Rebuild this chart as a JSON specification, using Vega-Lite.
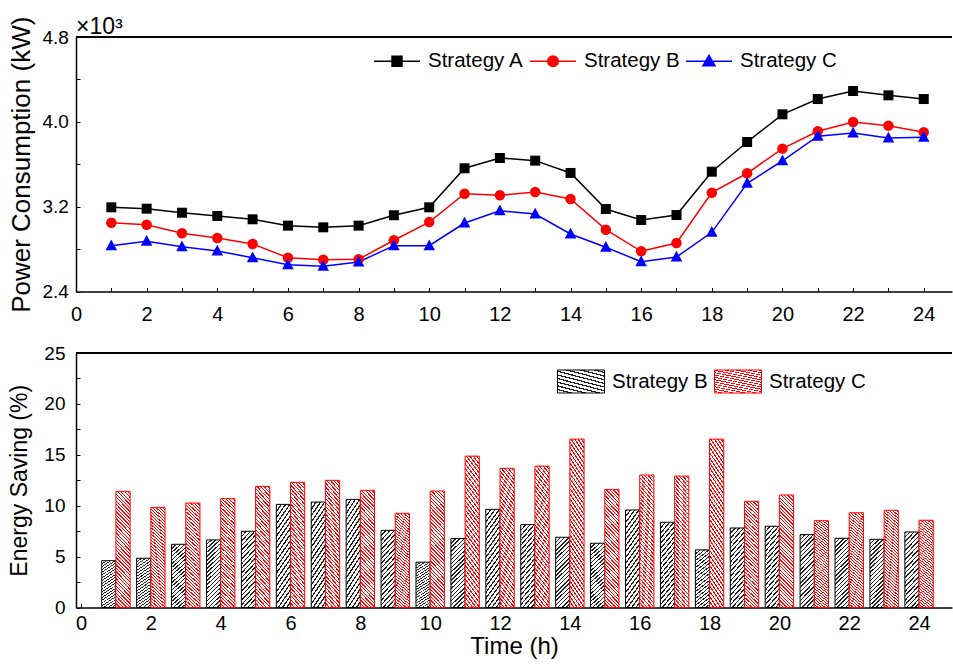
{
"$schema": "https://vega.github.io/schema/vega-lite/v6.json",
"padding": {"left": 8, "top": 16, "right": 0, "bottom": 0},
"spacing": 19,
"config": {
  "font": "Liberation Sans",
  "view": {"stroke": null},
  "axis": {"labelFont": "Liberation Sans", "titleFont": "Liberation Sans", "labelColor": "black", "titleColor": "black", "domainColor": "black", "tickColor": "black", "grid": false, "titleFontWeight": "normal", "labelFontSize": 19, "titleFontSize": 23, "domainWidth": 1.5, "tickWidth": 1, "labelFlush": false, "labelOverlap": false},
  "legend": {"labelFont": "Liberation Sans", "labelColor": "black", "labelFontSize": 20.5, "padding": 0}
},
"vconcat": [
{
  "width": 876, "height": 254.5,
  "title": {"text": "×10³", "anchor": "start", "frame": "group", "fontSize": 23, "fontWeight": "normal", "baseline": "alphabetic", "offset": -41, "color": "black"},
  "data": {"values": [
    {"hour":1,"strategy":"Strategy A","power":3.194},{"hour":2,"strategy":"Strategy A","power":3.181},{"hour":3,"strategy":"Strategy A","power":3.143},{"hour":4,"strategy":"Strategy A","power":3.112},{"hour":5,"strategy":"Strategy A","power":3.081},{"hour":6,"strategy":"Strategy A","power":3.021},{"hour":7,"strategy":"Strategy A","power":3.005},{"hour":8,"strategy":"Strategy A","power":3.021},{"hour":9,"strategy":"Strategy A","power":3.119},{"hour":10,"strategy":"Strategy A","power":3.194},{"hour":11,"strategy":"Strategy A","power":3.562},{"hour":12,"strategy":"Strategy A","power":3.659},{"hour":13,"strategy":"Strategy A","power":3.634},{"hour":14,"strategy":"Strategy A","power":3.518},{"hour":15,"strategy":"Strategy A","power":3.178},{"hour":16,"strategy":"Strategy A","power":3.074},{"hour":17,"strategy":"Strategy A","power":3.121},{"hour":18,"strategy":"Strategy A","power":3.530},{"hour":19,"strategy":"Strategy A","power":3.810},{"hour":20,"strategy":"Strategy A","power":4.071},{"hour":21,"strategy":"Strategy A","power":4.215},{"hour":22,"strategy":"Strategy A","power":4.291},{"hour":23,"strategy":"Strategy A","power":4.250},{"hour":24,"strategy":"Strategy A","power":4.215},
    {"hour":1,"strategy":"Strategy B","power":3.049},{"hour":2,"strategy":"Strategy B","power":3.030},{"hour":3,"strategy":"Strategy B","power":2.949},{"hour":4,"strategy":"Strategy B","power":2.905},{"hour":5,"strategy":"Strategy B","power":2.848},{"hour":6,"strategy":"Strategy B","power":2.719},{"hour":7,"strategy":"Strategy B","power":2.700},{"hour":8,"strategy":"Strategy B","power":2.704},{"hour":9,"strategy":"Strategy B","power":2.883},{"hour":10,"strategy":"Strategy B","power":3.055},{"hour":11,"strategy":"Strategy B","power":3.322},{"hour":12,"strategy":"Strategy B","power":3.307},{"hour":13,"strategy":"Strategy B","power":3.338},{"hour":14,"strategy":"Strategy B","power":3.272},{"hour":15,"strategy":"Strategy B","power":2.983},{"hour":16,"strategy":"Strategy B","power":2.779},{"hour":17,"strategy":"Strategy B","power":2.857},{"hour":18,"strategy":"Strategy B","power":3.332},{"hour":19,"strategy":"Strategy B","power":3.515},{"hour":20,"strategy":"Strategy B","power":3.747},{"hour":21,"strategy":"Strategy B","power":3.911},{"hour":22,"strategy":"Strategy B","power":3.998},{"hour":23,"strategy":"Strategy B","power":3.964},{"hour":24,"strategy":"Strategy B","power":3.901},
    {"hour":1,"strategy":"Strategy C","power":2.832},{"hour":2,"strategy":"Strategy C","power":2.873},{"hour":3,"strategy":"Strategy C","power":2.822},{"hour":4,"strategy":"Strategy C","power":2.782},{"hour":5,"strategy":"Strategy C","power":2.719},{"hour":6,"strategy":"Strategy C","power":2.653},{"hour":7,"strategy":"Strategy C","power":2.638},{"hour":8,"strategy":"Strategy C","power":2.678},{"hour":9,"strategy":"Strategy C","power":2.832},{"hour":10,"strategy":"Strategy C","power":2.832},{"hour":11,"strategy":"Strategy C","power":3.046},{"hour":12,"strategy":"Strategy C","power":3.162},{"hour":13,"strategy":"Strategy C","power":3.131},{"hour":14,"strategy":"Strategy C","power":2.942},{"hour":15,"strategy":"Strategy C","power":2.817},{"hour":16,"strategy":"Strategy C","power":2.681},{"hour":17,"strategy":"Strategy C","power":2.725},{"hour":18,"strategy":"Strategy C","power":2.958},{"hour":19,"strategy":"Strategy C","power":3.420},{"hour":20,"strategy":"Strategy C","power":3.633},{"hour":21,"strategy":"Strategy C","power":3.864},{"hour":22,"strategy":"Strategy C","power":3.895},{"hour":23,"strategy":"Strategy C","power":3.848},{"hour":24,"strategy":"Strategy C","power":3.854}
  ]},
  "encoding": {
    "x": {"field": "hour", "type": "quantitative", "scale": {"domain": [0, 24.8], "nice": false, "zero": false},
          "axis": {"values": [0,1,2,3,4,5,6,7,8,9,10,11,12,13,14,15,16,17,18,19,20,21,22,23,24], "labelExpr": "datum.value % 2 == 0 ? datum.label : ''", "tickSize": -4, "labelPadding": 17, "labelFontSize": 20, "title": null}},
    "y": {"field": "power", "type": "quantitative", "scale": {"domain": [2.4, 4.8], "nice": false, "zero": false},
          "axis": {"values": [2.4, 2.8, 3.2, 3.6, 4.0, 4.4, 4.8], "labelExpr": "round(datum.value * 10) % 8 == 0 ? format(datum.value, '.1f') : ''", "tickSize": -4, "labelPadding": 11.7, "title": "Power Consumption (kW)", "titleFontSize": 26, "titlePadding": 7}}
  },
  "layer": [
    {
      "mark": {"type": "rule", "strokeWidth": 1.5, "color": "black"},
      "encoding": {"y": {"datum": 4.8, "type": "quantitative"}, "x": null}
    },
    {
      "mark": {"type": "line", "strokeWidth": 1.5},
      "encoding": {
        "color": {"field": "strategy", "type": "nominal", "scale": {"domain": ["Strategy A", "Strategy B", "Strategy C"], "range": ["#000000", "#ff0000", "#0000ff"]},
                  "legend": {"orient": "none", "legendX": 297, "legendY": 0, "direction": "horizontal", "title": null, "symbolType": "M-1,0H1M-0.217,-0.217H0.217V0.217H-0.217Z", "symbolSize": 2116, "symbolStrokeWidth": 1.5, "labelOffset": 7, "columnPadding": 3,
                    "encode": {"symbols": {"update": {
                      "shape": {"signal": "datum.value == 'Strategy A' ? 'M-1,0H1M-0.217,-0.217H0.217V0.217H-0.217Z' : datum.value == 'Strategy B' ? 'M-1,0H1M0.23,0A0.23,0.23,0,1,1,-0.23,0A0.23,0.23,0,1,1,0.23,0Z' : 'M-1,0H1M0,-0.26L0.26,0.2L-0.26,0.2Z'"},
                      "fill": {"signal": "datum.value == 'Strategy A' ? '#000000' : datum.value == 'Strategy B' ? '#ff0000' : '#0000ff'"},
                      "stroke": {"signal": "datum.value == 'Strategy A' ? '#000000' : datum.value == 'Strategy B' ? '#ff0000' : '#0000ff'"},
                      "strokeWidth": {"value": 1.5},
                      "opacity": {"value": 1}
                    }}}}}
      }
    },
    {
      "transform": [{"filter": "datum.strategy == 'Strategy A'"}],
      "mark": {"type": "point", "shape": "square", "filled": true, "opacity": 1, "size": 100, "color": "#000000"}
    },
    {
      "transform": [{"filter": "datum.strategy == 'Strategy B'"}],
      "mark": {"type": "point", "shape": "circle", "filled": true, "opacity": 1, "size": 110, "color": "#ff0000"}
    },
    {
      "transform": [{"filter": "datum.strategy == 'Strategy C'"}],
      "mark": {"type": "point", "shape": "M0,-1.2L1.1,0.85L-1.1,0.85Z", "filled": true, "opacity": 1, "size": 110, "color": "#0000ff"}
    },
    {
      "data": {"values": [{"label": "(a)"}]},
      "mark": {"type": "text", "fontSize": 24, "align": "left", "baseline": "middle", "color": "black"},
      "encoding": {
        "text": {"field": "label"},
        "x": {"datum": 0.9, "type": "quantitative"},
        "y": {"datum": 4.55, "type": "quantitative"}
      }
    }
  ]
},
{
  "width": 876, "height": 254.5,
  "data": {"values": [
    {"hour":1,"strategy":"Strategy B","saving":4.6},{"hour":2,"strategy":"Strategy B","saving":4.84},{"hour":3,"strategy":"Strategy B","saving":6.21},{"hour":4,"strategy":"Strategy B","saving":6.64},{"hour":5,"strategy":"Strategy B","saving":7.49},{"hour":6,"strategy":"Strategy B","saving":10.13},{"hour":7,"strategy":"Strategy B","saving":10.36},{"hour":8,"strategy":"Strategy B","saving":10.62},{"hour":9,"strategy":"Strategy B","saving":7.58},{"hour":10,"strategy":"Strategy B","saving":4.45},{"hour":11,"strategy":"Strategy B","saving":6.77},{"hour":12,"strategy":"Strategy B","saving":9.64},{"hour":13,"strategy":"Strategy B","saving":8.14},{"hour":14,"strategy":"Strategy B","saving":6.9},{"hour":15,"strategy":"Strategy B","saving":6.31},{"hour":16,"strategy":"Strategy B","saving":9.58},{"hour":17,"strategy":"Strategy B","saving":8.37},{"hour":18,"strategy":"Strategy B","saving":5.66},{"hour":19,"strategy":"Strategy B","saving":7.81},{"hour":20,"strategy":"Strategy B","saving":7.98},{"hour":21,"strategy":"Strategy B","saving":7.16},{"hour":22,"strategy":"Strategy B","saving":6.8},{"hour":23,"strategy":"Strategy B","saving":6.7},{"hour":24,"strategy":"Strategy B","saving":7.42},
    {"hour":1,"strategy":"Strategy C","saving":11.41},{"hour":2,"strategy":"Strategy C","saving":9.84},{"hour":3,"strategy":"Strategy C","saving":10.26},{"hour":4,"strategy":"Strategy C","saving":10.69},{"hour":5,"strategy":"Strategy C","saving":11.9},{"hour":6,"strategy":"Strategy C","saving":12.29},{"hour":7,"strategy":"Strategy C","saving":12.49},{"hour":8,"strategy":"Strategy C","saving":11.51},{"hour":9,"strategy":"Strategy C","saving":9.25},{"hour":10,"strategy":"Strategy C","saving":11.44},{"hour":11,"strategy":"Strategy C","saving":14.87},{"hour":12,"strategy":"Strategy C","saving":13.67},{"hour":13,"strategy":"Strategy C","saving":13.89},{"hour":14,"strategy":"Strategy C","saving":16.54},{"hour":15,"strategy":"Strategy C","saving":11.6},{"hour":16,"strategy":"Strategy C","saving":13.01},{"hour":17,"strategy":"Strategy C","saving":12.91},{"hour":18,"strategy":"Strategy C","saving":16.54},{"hour":19,"strategy":"Strategy C","saving":10.43},{"hour":20,"strategy":"Strategy C","saving":11.05},{"hour":21,"strategy":"Strategy C","saving":8.53},{"hour":22,"strategy":"Strategy C","saving":9.31},{"hour":23,"strategy":"Strategy C","saving":9.55},{"hour":24,"strategy":"Strategy C","saving":8.57}
  ]},
  "encoding": {
    "x": {"field": "hour", "type": "quantitative", "scale": {"domain": [0, 24.8], "nice": false, "zero": false},
          "axis": {"values": [0,1,2,3,4,5,6,7,8,9,10,11,12,13,14,15,16,17,18,19,20,21,22,23,24], "labelExpr": "datum.value % 2 == 0 ? datum.label : ''", "tickSize": -4, "labelPadding": 10, "labelFontSize": 20, "title": "Time (h)", "titleFontSize": 24, "titlePadding": 1}},
    "y": {"field": "saving", "type": "quantitative", "scale": {"domain": [0, 25], "nice": false},
          "axis": {"values": [0, 2.5, 5, 7.5, 10, 12.5, 15, 17.5, 20, 22.5, 25], "labelExpr": "datum.value % 5 == 0 ? datum.label : ''", "tickSize": -4, "labelPadding": 15, "title": "Energy Saving (%)", "titlePadding": 12}}
  },
  "layer": [
    {
      "mark": {"type": "rule", "strokeWidth": 1.5, "color": "black"},
      "encoding": {"y": {"datum": 25, "type": "quantitative"}, "x": null}
    },
    {
      "transform": [{"filter": "datum.strategy == 'Strategy B'"}],
      "mark": {"type": "bar", "orient": "vertical", "width": 14.2, "xOffset": -7.1, "strokeWidth": 1,
        "fill": {"gradient": "linear", "x1": 0, "y1": 0, "x2": 1, "y2": 5, "stops": [
          {"offset":0,"color":"#222"},{"offset":0.004,"color":"#222"},{"offset":0.004,"color":"#fff"},{"offset":0.0115,"color":"#fff"},
          {"offset":0.0115,"color":"#222"},{"offset":0.0155,"color":"#222"},{"offset":0.0155,"color":"#fff"},{"offset":0.023,"color":"#fff"},
          {"offset":0.023,"color":"#222"},{"offset":0.027,"color":"#222"},{"offset":0.027,"color":"#fff"},{"offset":0.0345,"color":"#fff"},
          {"offset":0.0345,"color":"#222"},{"offset":0.0385,"color":"#222"},{"offset":0.0385,"color":"#fff"},{"offset":0.046,"color":"#fff"},
          {"offset":0.046,"color":"#222"},{"offset":0.05,"color":"#222"},{"offset":0.05,"color":"#fff"},{"offset":0.0575,"color":"#fff"},
          {"offset":0.0575,"color":"#222"},{"offset":0.0615,"color":"#222"},{"offset":0.0615,"color":"#fff"},{"offset":0.069,"color":"#fff"},
          {"offset":0.069,"color":"#222"},{"offset":0.073,"color":"#222"},{"offset":0.073,"color":"#fff"},{"offset":0.0805,"color":"#fff"},
          {"offset":0.0805,"color":"#222"},{"offset":0.0845,"color":"#222"},{"offset":0.0845,"color":"#fff"},{"offset":0.092,"color":"#fff"},
          {"offset":0.092,"color":"#222"},{"offset":0.096,"color":"#222"},{"offset":0.096,"color":"#fff"},{"offset":0.1035,"color":"#fff"},
          {"offset":0.1035,"color":"#222"},{"offset":0.1075,"color":"#222"},{"offset":0.1075,"color":"#fff"},{"offset":0.115,"color":"#fff"},
          {"offset":0.115,"color":"#222"},{"offset":0.119,"color":"#222"},{"offset":0.119,"color":"#fff"},{"offset":0.1265,"color":"#fff"},
          {"offset":0.1265,"color":"#222"},{"offset":0.1305,"color":"#222"},{"offset":0.1305,"color":"#fff"},{"offset":0.138,"color":"#fff"},
          {"offset":0.138,"color":"#222"},{"offset":0.142,"color":"#222"},{"offset":0.142,"color":"#fff"},{"offset":0.1495,"color":"#fff"},
          {"offset":0.1495,"color":"#222"},{"offset":0.1535,"color":"#222"},{"offset":0.1535,"color":"#fff"},{"offset":0.161,"color":"#fff"},
          {"offset":0.161,"color":"#222"},{"offset":0.165,"color":"#222"},{"offset":0.165,"color":"#fff"},{"offset":0.1725,"color":"#fff"},
          {"offset":0.1725,"color":"#222"},{"offset":0.1765,"color":"#222"},{"offset":0.1765,"color":"#fff"},{"offset":0.184,"color":"#fff"},
          {"offset":0.184,"color":"#222"},{"offset":0.188,"color":"#222"},{"offset":0.188,"color":"#fff"},{"offset":0.1955,"color":"#fff"},
          {"offset":0.1955,"color":"#222"},{"offset":0.1995,"color":"#222"},{"offset":0.1995,"color":"#fff"},{"offset":0.207,"color":"#fff"},
          {"offset":0.207,"color":"#222"},{"offset":0.211,"color":"#222"},{"offset":0.211,"color":"#fff"},{"offset":0.2185,"color":"#fff"},
          {"offset":0.2185,"color":"#222"},{"offset":0.2225,"color":"#222"},{"offset":0.2225,"color":"#fff"},{"offset":0.23,"color":"#fff"},
          {"offset":0.23,"color":"#222"},{"offset":0.234,"color":"#222"},{"offset":0.234,"color":"#fff"},{"offset":1,"color":"#fff"}
        ]}},
      "encoding": {
        "y": {"field": "saving", "type": "quantitative"},
        "stroke": {"field": "strategy", "type": "nominal", "scale": {"domain": ["Strategy B"], "range": ["#000000"]},
                   "legend": {"orient": "none", "legendX": 481, "legendY": 4.5, "title": null, "symbolType": "M-1,-0.49H1V0.49H-1Z", "symbolSize": 2209, "symbolStrokeWidth": 1, "labelOffset": 7,
                     "encode": {"symbols": {"update": {
                       "stroke": {"value": "#000000"}, "strokeWidth": {"value": 1}, "opacity": {"value": 1},
                       "fill": {"value": {"gradient": "linear", "x1": 0, "y1": 0, "x2": 2, "y2": 1, "stops": [
                         {"offset":0,"color":"#222"},{"offset":0.013,"color":"#222"},{"offset":0.013,"color":"#fff"},{"offset":0.037,"color":"#fff"},
                         {"offset":0.037,"color":"#222"},{"offset":0.05,"color":"#222"},{"offset":0.05,"color":"#fff"},{"offset":0.074,"color":"#fff"},
                         {"offset":0.074,"color":"#222"},{"offset":0.087,"color":"#222"},{"offset":0.087,"color":"#fff"},{"offset":0.111,"color":"#fff"},
                         {"offset":0.111,"color":"#222"},{"offset":0.124,"color":"#222"},{"offset":0.124,"color":"#fff"},{"offset":0.148,"color":"#fff"},
                         {"offset":0.148,"color":"#222"},{"offset":0.161,"color":"#222"},{"offset":0.161,"color":"#fff"},{"offset":0.185,"color":"#fff"},
                         {"offset":0.185,"color":"#222"},{"offset":0.198,"color":"#222"},{"offset":0.198,"color":"#fff"},{"offset":0.222,"color":"#fff"},
                         {"offset":0.222,"color":"#222"},{"offset":0.235,"color":"#222"},{"offset":0.235,"color":"#fff"},{"offset":0.259,"color":"#fff"},
                         {"offset":0.259,"color":"#222"},{"offset":0.272,"color":"#222"},{"offset":0.272,"color":"#fff"},{"offset":0.296,"color":"#fff"},
                         {"offset":0.296,"color":"#222"},{"offset":0.309,"color":"#222"},{"offset":0.309,"color":"#fff"},{"offset":0.333,"color":"#fff"},
                         {"offset":0.333,"color":"#222"},{"offset":0.346,"color":"#222"},{"offset":0.346,"color":"#fff"},{"offset":0.37,"color":"#fff"},
                         {"offset":0.37,"color":"#222"},{"offset":0.383,"color":"#222"},{"offset":0.383,"color":"#fff"},{"offset":0.407,"color":"#fff"},
                         {"offset":0.407,"color":"#222"},{"offset":0.42,"color":"#222"},{"offset":0.42,"color":"#fff"},{"offset":0.444,"color":"#fff"},
                         {"offset":0.444,"color":"#222"},{"offset":0.457,"color":"#222"},{"offset":0.457,"color":"#fff"},{"offset":0.481,"color":"#fff"},
                         {"offset":0.481,"color":"#222"},{"offset":0.494,"color":"#222"},{"offset":0.494,"color":"#fff"},{"offset":0.518,"color":"#fff"},
                         {"offset":0.518,"color":"#222"},{"offset":0.531,"color":"#222"},{"offset":0.531,"color":"#fff"},{"offset":0.555,"color":"#fff"},
                         {"offset":0.555,"color":"#222"},{"offset":0.568,"color":"#222"},{"offset":0.568,"color":"#fff"},{"offset":0.592,"color":"#fff"},
                         {"offset":0.592,"color":"#222"},{"offset":0.605,"color":"#222"},{"offset":0.605,"color":"#fff"},{"offset":1,"color":"#fff"}
                       ]}}
                     }}}}}
      }
    },
    {
      "transform": [{"filter": "datum.strategy == 'Strategy C'"}],
      "mark": {"type": "bar", "orient": "vertical", "width": 14.2, "xOffset": 7.1, "strokeWidth": 1,
        "fill": {"gradient": "linear", "x1": 0, "y1": 1, "x2": 1, "y2": -7, "stops": [
          {"offset":0,"color":"#f00"},{"offset":0.0014,"color":"#f00"},{"offset":0.0014,"color":"#fff"},{"offset":0.00375,"color":"#fff"},
          {"offset":0.00375,"color":"#f00"},{"offset":0.00515,"color":"#f00"},{"offset":0.00515,"color":"#fff"},{"offset":0.0075,"color":"#fff"},
          {"offset":0.0075,"color":"#f00"},{"offset":0.0089,"color":"#f00"},{"offset":0.0089,"color":"#fff"},{"offset":0.01125,"color":"#fff"},
          {"offset":0.01125,"color":"#f00"},{"offset":0.01265,"color":"#f00"},{"offset":0.01265,"color":"#fff"},{"offset":0.015,"color":"#fff"},
          {"offset":0.015,"color":"#f00"},{"offset":0.0164,"color":"#f00"},{"offset":0.0164,"color":"#fff"},{"offset":0.01875,"color":"#fff"},
          {"offset":0.01875,"color":"#f00"},{"offset":0.02015,"color":"#f00"},{"offset":0.02015,"color":"#fff"},{"offset":0.0225,"color":"#fff"},
          {"offset":0.0225,"color":"#f00"},{"offset":0.0239,"color":"#f00"},{"offset":0.0239,"color":"#fff"},{"offset":0.02625,"color":"#fff"},
          {"offset":0.02625,"color":"#f00"},{"offset":0.02765,"color":"#f00"},{"offset":0.02765,"color":"#fff"},{"offset":0.03,"color":"#fff"},
          {"offset":0.03,"color":"#f00"},{"offset":0.0314,"color":"#f00"},{"offset":0.0314,"color":"#fff"},{"offset":0.03375,"color":"#fff"},
          {"offset":0.03375,"color":"#f00"},{"offset":0.03515,"color":"#f00"},{"offset":0.03515,"color":"#fff"},{"offset":0.0375,"color":"#fff"},
          {"offset":0.0375,"color":"#f00"},{"offset":0.0389,"color":"#f00"},{"offset":0.0389,"color":"#fff"},{"offset":0.04125,"color":"#fff"},
          {"offset":0.04125,"color":"#f00"},{"offset":0.04265,"color":"#f00"},{"offset":0.04265,"color":"#fff"},{"offset":0.045,"color":"#fff"},
          {"offset":0.045,"color":"#f00"},{"offset":0.0464,"color":"#f00"},{"offset":0.0464,"color":"#fff"},{"offset":0.04875,"color":"#fff"},
          {"offset":0.04875,"color":"#f00"},{"offset":0.05015,"color":"#f00"},{"offset":0.05015,"color":"#fff"},{"offset":0.0525,"color":"#fff"},
          {"offset":0.0525,"color":"#f00"},{"offset":0.0539,"color":"#f00"},{"offset":0.0539,"color":"#fff"},{"offset":0.05625,"color":"#fff"},
          {"offset":0.05625,"color":"#f00"},{"offset":0.05765,"color":"#f00"},{"offset":0.05765,"color":"#fff"},{"offset":0.06,"color":"#fff"},
          {"offset":0.06,"color":"#f00"},{"offset":0.0614,"color":"#f00"},{"offset":0.0614,"color":"#fff"},{"offset":0.06375,"color":"#fff"},
          {"offset":0.06375,"color":"#f00"},{"offset":0.06515,"color":"#f00"},{"offset":0.06515,"color":"#fff"},{"offset":0.0675,"color":"#fff"},
          {"offset":0.0675,"color":"#f00"},{"offset":0.0689,"color":"#f00"},{"offset":0.0689,"color":"#fff"},{"offset":0.07125,"color":"#fff"},
          {"offset":0.07125,"color":"#f00"},{"offset":0.07265,"color":"#f00"},{"offset":0.07265,"color":"#fff"},{"offset":0.075,"color":"#fff"},
          {"offset":0.075,"color":"#f00"},{"offset":0.0764,"color":"#f00"},{"offset":0.0764,"color":"#fff"},{"offset":0.07875,"color":"#fff"},
          {"offset":0.07875,"color":"#f00"},{"offset":0.08015,"color":"#f00"},{"offset":0.08015,"color":"#fff"},{"offset":0.0825,"color":"#fff"},
          {"offset":0.0825,"color":"#f00"},{"offset":0.0839,"color":"#f00"},{"offset":0.0839,"color":"#fff"},{"offset":0.08625,"color":"#fff"},
          {"offset":0.08625,"color":"#f00"},{"offset":0.08765,"color":"#f00"},{"offset":0.08765,"color":"#fff"},{"offset":0.09,"color":"#fff"},
          {"offset":0.09,"color":"#f00"},{"offset":0.0914,"color":"#f00"},{"offset":0.0914,"color":"#fff"},{"offset":0.09375,"color":"#fff"},
          {"offset":0.09375,"color":"#f00"},{"offset":0.09515,"color":"#f00"},{"offset":0.09515,"color":"#fff"},{"offset":0.0975,"color":"#fff"},
          {"offset":0.0975,"color":"#f00"},{"offset":0.0989,"color":"#f00"},{"offset":0.0989,"color":"#fff"},{"offset":0.10125,"color":"#fff"},
          {"offset":0.10125,"color":"#f00"},{"offset":0.10265,"color":"#f00"},{"offset":0.10265,"color":"#fff"},{"offset":0.105,"color":"#fff"},
          {"offset":0.105,"color":"#f00"},{"offset":0.1064,"color":"#f00"},{"offset":0.1064,"color":"#fff"},{"offset":0.10875,"color":"#fff"},
          {"offset":0.10875,"color":"#f00"},{"offset":0.11015,"color":"#f00"},{"offset":0.11015,"color":"#fff"},{"offset":0.1125,"color":"#fff"},
          {"offset":0.1125,"color":"#f00"},{"offset":0.1139,"color":"#f00"},{"offset":0.1139,"color":"#fff"},{"offset":0.11625,"color":"#fff"},
          {"offset":0.11625,"color":"#f00"},{"offset":0.11765,"color":"#f00"},{"offset":0.11765,"color":"#fff"},{"offset":0.12,"color":"#fff"},
          {"offset":0.12,"color":"#f00"},{"offset":0.1214,"color":"#f00"},{"offset":0.1214,"color":"#fff"},{"offset":0.12375,"color":"#fff"},
          {"offset":0.12375,"color":"#f00"},{"offset":0.12515,"color":"#f00"},{"offset":0.12515,"color":"#fff"},{"offset":0.1275,"color":"#fff"},
          {"offset":0.1275,"color":"#f00"},{"offset":0.1289,"color":"#f00"},{"offset":0.1289,"color":"#fff"},{"offset":0.13125,"color":"#fff"},
          {"offset":0.13125,"color":"#f00"},{"offset":0.13265,"color":"#f00"},{"offset":0.13265,"color":"#fff"},{"offset":0.135,"color":"#fff"},
          {"offset":0.135,"color":"#f00"},{"offset":0.1364,"color":"#f00"},{"offset":0.1364,"color":"#fff"},{"offset":0.13875,"color":"#fff"},
          {"offset":0.13875,"color":"#f00"},{"offset":0.14015,"color":"#f00"},{"offset":0.14015,"color":"#fff"},{"offset":1,"color":"#fff"}
        ]}},
      "encoding": {
        "y": {"field": "saving", "type": "quantitative"},
        "stroke": {"field": "strategy", "type": "nominal", "scale": {"domain": ["Strategy C"], "range": ["#ff0000"]},
                   "legend": {"orient": "none", "legendX": 638, "legendY": 4.5, "title": null, "symbolType": "M-1,-0.49H1V0.49H-1Z", "symbolSize": 2209, "symbolStrokeWidth": 1, "labelOffset": 7,
                     "encode": {"symbols": {"update": {
                       "stroke": {"value": "#ff0000"}, "strokeWidth": {"value": 1}, "opacity": {"value": 1},
                       "fill": {"value": {"gradient": "linear", "x1": 0, "y1": 1, "x2": 2, "y2": 0, "stops": [
                         {"offset":0,"color":"#f00"},{"offset":0.011,"color":"#f00"},{"offset":0.011,"color":"#fff"},{"offset":0.03,"color":"#fff"},
                         {"offset":0.03,"color":"#f00"},{"offset":0.041,"color":"#f00"},{"offset":0.041,"color":"#fff"},{"offset":0.06,"color":"#fff"},
                         {"offset":0.06,"color":"#f00"},{"offset":0.071,"color":"#f00"},{"offset":0.071,"color":"#fff"},{"offset":0.09,"color":"#fff"},
                         {"offset":0.09,"color":"#f00"},{"offset":0.101,"color":"#f00"},{"offset":0.101,"color":"#fff"},{"offset":0.12,"color":"#fff"},
                         {"offset":0.12,"color":"#f00"},{"offset":0.131,"color":"#f00"},{"offset":0.131,"color":"#fff"},{"offset":0.15,"color":"#fff"},
                         {"offset":0.15,"color":"#f00"},{"offset":0.161,"color":"#f00"},{"offset":0.161,"color":"#fff"},{"offset":0.18,"color":"#fff"},
                         {"offset":0.18,"color":"#f00"},{"offset":0.191,"color":"#f00"},{"offset":0.191,"color":"#fff"},{"offset":0.21,"color":"#fff"},
                         {"offset":0.21,"color":"#f00"},{"offset":0.221,"color":"#f00"},{"offset":0.221,"color":"#fff"},{"offset":0.24,"color":"#fff"},
                         {"offset":0.24,"color":"#f00"},{"offset":0.251,"color":"#f00"},{"offset":0.251,"color":"#fff"},{"offset":0.27,"color":"#fff"},
                         {"offset":0.27,"color":"#f00"},{"offset":0.281,"color":"#f00"},{"offset":0.281,"color":"#fff"},{"offset":0.3,"color":"#fff"},
                         {"offset":0.3,"color":"#f00"},{"offset":0.311,"color":"#f00"},{"offset":0.311,"color":"#fff"},{"offset":0.33,"color":"#fff"},
                         {"offset":0.33,"color":"#f00"},{"offset":0.341,"color":"#f00"},{"offset":0.341,"color":"#fff"},{"offset":0.36,"color":"#fff"},
                         {"offset":0.36,"color":"#f00"},{"offset":0.371,"color":"#f00"},{"offset":0.371,"color":"#fff"},{"offset":0.39,"color":"#fff"},
                         {"offset":0.39,"color":"#f00"},{"offset":0.401,"color":"#f00"},{"offset":0.401,"color":"#fff"},{"offset":0.42,"color":"#fff"},
                         {"offset":0.42,"color":"#f00"},{"offset":0.431,"color":"#f00"},{"offset":0.431,"color":"#fff"},{"offset":0.45,"color":"#fff"},
                         {"offset":0.45,"color":"#f00"},{"offset":0.461,"color":"#f00"},{"offset":0.461,"color":"#fff"},{"offset":0.48,"color":"#fff"},
                         {"offset":0.48,"color":"#f00"},{"offset":0.491,"color":"#f00"},{"offset":0.491,"color":"#fff"},{"offset":0.51,"color":"#fff"},
                         {"offset":0.51,"color":"#f00"},{"offset":0.521,"color":"#f00"},{"offset":0.521,"color":"#fff"},{"offset":0.54,"color":"#fff"},
                         {"offset":0.54,"color":"#f00"},{"offset":0.551,"color":"#f00"},{"offset":0.551,"color":"#fff"},{"offset":0.57,"color":"#fff"},
                         {"offset":0.57,"color":"#f00"},{"offset":0.581,"color":"#f00"},{"offset":0.581,"color":"#fff"},{"offset":0.6,"color":"#fff"},
                         {"offset":0.6,"color":"#f00"},{"offset":0.611,"color":"#f00"},{"offset":0.611,"color":"#fff"},{"offset":1,"color":"#fff"}
                       ]}}
                     }}}}}
      }
    },
    {
      "data": {"values": [{"label": "(b)"}]},
      "mark": {"type": "text", "fontSize": 24, "align": "left", "baseline": "middle", "color": "black"},
      "encoding": {
        "text": {"field": "label"},
        "x": {"datum": 0.44, "type": "quantitative"},
        "y": {"datum": 22.6, "type": "quantitative"}
      }
    }
  ],
  "resolve": {"scale": {"stroke": "independent"}, "legend": {"stroke": "independent"}}
}
]
}
